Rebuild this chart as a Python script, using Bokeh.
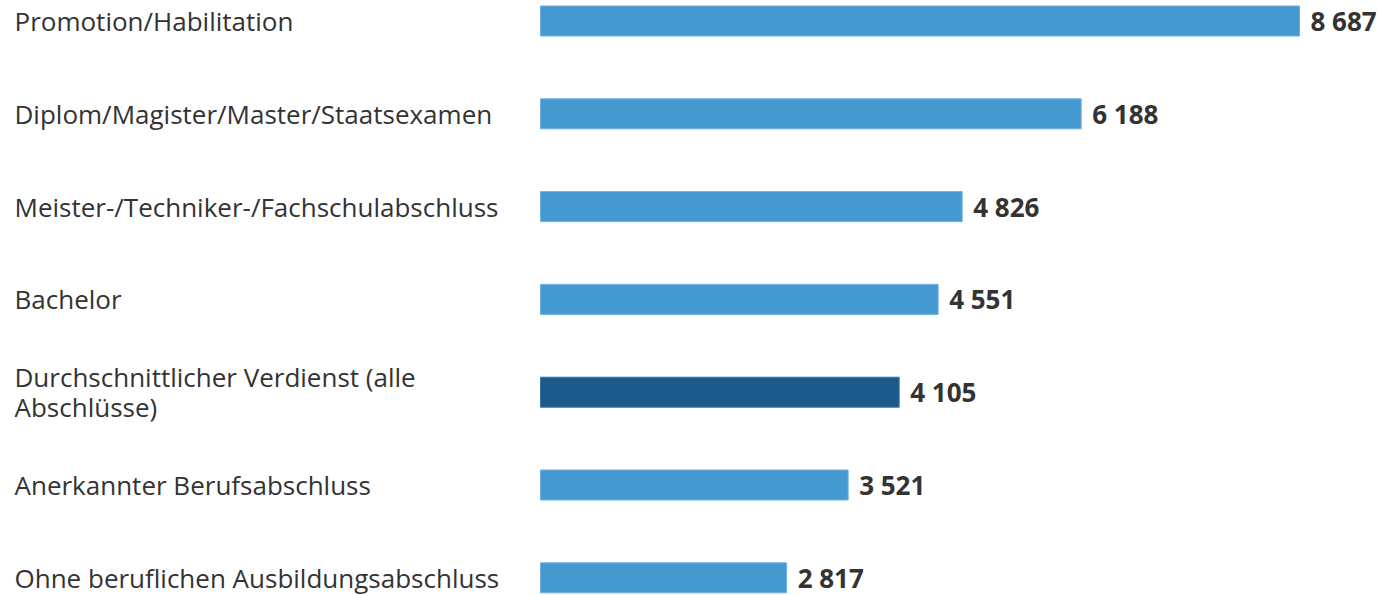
from bokeh.plotting import figure
from bokeh.models import ColumnDataSource, Range1d
from bokeh.core.properties import value
from bokeh.embed import file_html
from bokeh.resources import INLINE

categories = [
    "Promotion/Habilitation",
    "Diplom/Magister/Master/Staatsexamen",
    "Meister-/Techniker-/Fachschulabschluss",
    "Bachelor",
    "Durchschnittlicher Verdienst (alle\nAbschlüsse)",
    "Anerkannter Berufsabschluss",
    "Ohne beruflichen Ausbildungsabschluss",
]
values = [8687, 6188, 4826, 4551, 4105, 3521, 2817]
value_labels = ["8 687", "6 188", "4 826", "4 551", "4 105", "3 521", "2 817"]
highlight = [False, False, False, False, True, False, False]

LIGHT = "#4599d1"
DARK = "#1c5a8b"
TEXT = "#333333"

W, H = 1378, 595
row_px = 92.8
top_px = 20.5
x0_px = 540.0
scale = 759.0 / 8687.0  # px per unit

ys = list(range(len(categories)))
colors = [DARK if h else LIGHT for h in highlight]
edges = ["#6fb0dc" if not h else "#3d75a3" for h in highlight]

x_start = -x0_px / scale
x_end = (W - x0_px) / scale
y_top = -top_px / row_px
y_bottom = y_top + H / row_px

src = ColumnDataSource(dict(
    y=ys, v=values, cat=categories, lab=value_labels, color=colors, edge=edges,
    lx=[x_start] * len(ys),
))

p = figure(width=W, height=H, output_backend="svg", toolbar_location=None,
           x_range=Range1d(x_start, x_end), y_range=Range1d(y_bottom, y_top),
           min_border=0, outline_line_color=None)
p.axis.visible = False
p.grid.visible = False
p.background_fill_color = "white"
p.border_fill_color = "white"

p.hbar(y="y", left=0, right="v", height=30.0 / row_px, source=src,
       fill_color="color", line_color="edge", line_width=1)

p.text(x="lx", y="y", text="cat", source=src, x_offset=14, y_offset=0,
       text_font=value("Open Sans"), text_font_size="26px", text_color=TEXT,
       text_baseline="middle", text_align="left", text_line_height=0.85)

p.text(x="v", y="y", text="lab", source=src, x_offset=11, y_offset=0,
       text_font=value("Open Sans"), text_font_size="26px", text_font_style="bold",
       text_color=TEXT, text_baseline="middle", text_align="left")

open("out.html", "w").write(file_html(p, INLINE))
